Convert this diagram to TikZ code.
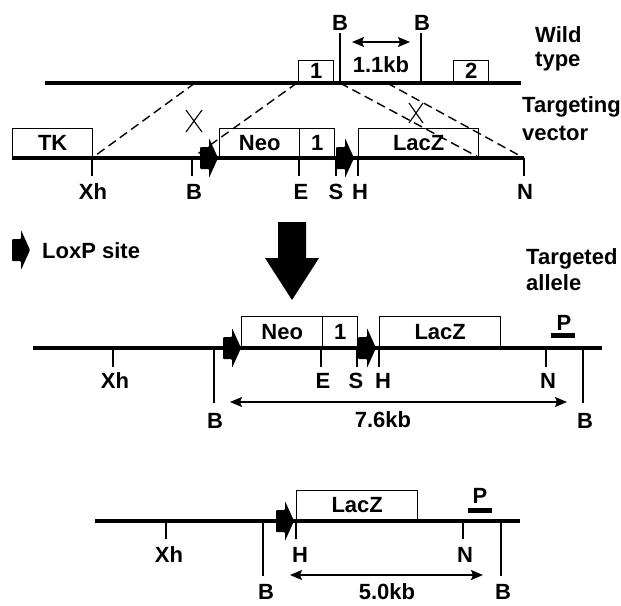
\documentclass[tikz,border=0pt]{standalone}
\usepackage{fontspec}
\setmainfont{Liberation Sans}
\usetikzlibrary{arrows.meta, positioning}
\newcommand\mapfont{\fontsize{22}{26}\selectfont\bfseries}

\begin{document}
\begin{tikzpicture}[x=1pt, y=-1pt,
  dna/.style={line width=4pt},
  box/.style={draw, line width=1.4pt, inner sep=0pt, anchor=south west,
              minimum height=29pt, font=\mapfont},
  tick/.style={line width=1.4pt},
  lab/.style={font=\mapfont, inner sep=0pt, anchor=base},
  cut/.style={line width=1.4pt, dash pattern=on 9pt off 5pt},
  kb/.style={{Stealth[length=12pt, width=10pt, inset=2pt]}-{Stealth[length=12pt, width=10pt, inset=2pt]},
             line width=1.4pt},
  loxp/.pic={\fill[rounded corners=1pt] (0,-11) -- (9,-11) -- (9,-20) -- (18,0) -- (9,20) -- (9,11) -- (0,11) -- cycle;},
]
\useasboundingbox (0,0) rectangle (621,605);

% wild type allele
\node[box, minimum width=35pt, minimum height=22pt] (wtex1) at (298,83) {1};
\node[box, minimum width=35pt, minimum height=22pt] (wtex2) at (453,83) {2};
\draw[dna] (45,83) -- (521,83);
\coordinate (wtBa) at (340,83);
\coordinate (wtBb) at (421,83);
\draw[tick] (wtBa) -- ++(0,-50);
\draw[tick] (wtBb) -- ++(0,-50);
\node[lab] (wtBalab) at (340,30) {B};
\node[lab] (wtBblab) at (422,30) {B};
\coordinate (kbwa) at (352,42);
\coordinate (kbwb) at (410,42);
\draw[kb] (kbwa) -- (kbwb);
\node[lab] (kbwt) at (381,72) {1.1kb};
\node[lab, anchor=base west] (wild) at (535,42) {Wild};
\node[lab, anchor=base west] (wtype) at (535,66) {type};

% targeting vector
\node[box, minimum width=80pt] (tk) at (12,158) {TK};
\node[box, minimum width=80pt] (tvneo) at (219,158) {Neo};
\node[box, minimum width=35pt] (tvex1) at (299,158) {1};
\node[box, minimum width=120pt] (tvlacz) at (358,158) {LacZ};
\draw[dna] (12,158) -- (524,158);
\foreach \x/\lx/\t [count=\i] in {92/93/Xh, 192/194/B, 299/301/E, 336/336/S, 358/360/H, 524/525/N}{
  \coordinate (tvs\i) at (\x,158);
  \draw[tick] (tvs\i) -- ++(0,18);
  \node[lab] (tvlab\i) at (\lx,199) {\t};
}
\coordinate (wtcut1) at (195,83);
\coordinate (wtcut2) at (297,83);
\coordinate (wtcut3) at (387,83);
\coordinate (tvlaczend) at (480,158);
\draw[cut] (wtcut1) -- (tvs1);
\draw[cut] (wtcut2) -- (tvs2);
\draw[cut] (wtBa) -- (tvlaczend);
\draw[cut] (wtcut3) -- (tvs6);
\pic at (200,158) {loxp};
\pic at (336,158) {loxp};
\draw[line width=1.1pt] (186,110) -- (202,132) (186,132) -- (202,110);
\draw[line width=1.1pt] (409,103) -- (423,123) (409,123) -- (423,103);
\node[lab, anchor=base west] (tvtxt1) at (522,112) {Targeting};
\node[lab, anchor=base west] (tvtxt2) at (522,140) {vector};

% legend and recombination arrow
\pic at (12,250) {loxp};
\node[lab, anchor=base west] (legend) at (42,258) {LoxP site};
\fill (278,222) -- (306,222) -- (306,258) -- (319,258) -- (292,300)
  -- (265,258) -- (278,258) -- cycle;

% targeted allele
\node[box, minimum width=81pt, minimum height=31pt] (taneo) at (241,348) {Neo};
\node[box, minimum width=35pt, minimum height=31pt] (taex1) at (322,348) {1};
\node[box, minimum width=121pt, minimum height=31pt] (talacz) at (379,348) {LacZ};
\draw[dna] (33,348) -- (602,348);
\pic at (223,348) {loxp};
\pic at (358,348) {loxp};
\foreach \x/\lx/\t [count=\i] in {113/115/Xh, 321/323/E, 357/356/S, 379/383/H, 546/548/N}{
  \coordinate (tas\i) at (\x,348);
  \draw[tick] (tas\i) -- ++(0,19);
  \node[lab] (talab\i) at (\lx,388) {\t};
}
\foreach \x/\lx [count=\i] in {214/215, 583/585}{
  \coordinate (taB\i) at (\x,348);
  \draw[tick] (taB\i) -- ++(0,55);
  \node[lab] (taBlab\i) at (\lx,428) {B};
}
\coordinate (kbta) at (230,402);
\coordinate (kbtb) at (567,402);
\draw[kb] (kbta) -- (kbtb);
\node[lab] (kbta76) at (383,427) {7.6kb};
\draw[dna, line width=5pt] (551,335.5) -- (575,335.5);
\node[lab] (taprobe) at (564,330) {P};
\node[lab, anchor=base west] (tatxt1) at (526,264) {Targeted};
\node[lab, anchor=base west] (tatxt2) at (526,290) {allele};

% deleted allele
\node[box, minimum width=121pt, minimum height=30pt] (dllacz) at (296,521) {LacZ};
\draw[dna] (95,521) -- (520,521);
\pic at (276,521) {loxp};
\foreach \x/\lx/\t [count=\i] in {166/169/Xh, 296/300/H, 463/465/N}{
  \coordinate (dls\i) at (\x,521);
  \draw[tick] (dls\i) -- ++(0,18);
  \node[lab] (dllab\i) at (\lx,562) {\t};
}
\foreach \x/\lx [count=\i] in {263/266, 501/503}{
  \coordinate (dlB\i) at (\x,521);
  \draw[tick] (dlB\i) -- ++(0,55);
  \node[lab] (dlBlab\i) at (\lx,599) {B};
}
\coordinate (kbda) at (290,575);
\coordinate (kbdb) at (483,575);
\draw[kb] (kbda) -- (kbdb);
\node[lab] (kbdl50) at (387,599) {5.0kb};
\draw[dna, line width=5pt] (468,510) -- (492,510);
\node[lab] (dlprobe) at (480,503) {P};
\end{tikzpicture}
\end{document}
